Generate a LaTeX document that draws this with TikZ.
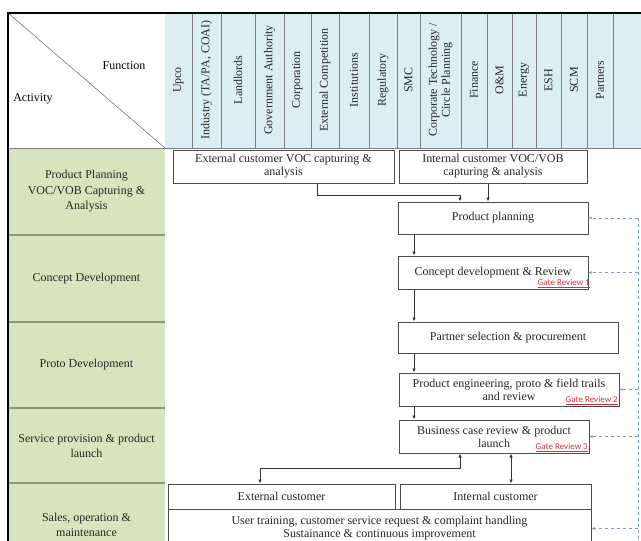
\documentclass[tikz,border=0pt]{standalone}
\usepackage{fontspec}
\setmainfont{Liberation Serif}
\newfontfamily\gatefont{Carlito}
\usetikzlibrary{arrows.meta,calc}

\definecolor{hdrblue}{HTML}{DBEEF3}
\definecolor{actgreen}{HTML}{D7E4BD}
\definecolor{gridgray}{HTML}{7F7F7F}
\definecolor{rowgray}{HTML}{8A9878}
\definecolor{fbblue}{HTML}{8496C8}
\definecolor{gatered}{HTML}{E0303A}

\begin{document}
\begin{tikzpicture}[x=1pt,y=-1pt,
  font=\fontsize{12}{13.2}\selectfont,
  box/.style={draw=black!70,line width=1pt,fill=white,align=center,inner sep=2pt,text=black!85},
  stage/.style={align=center,text=black!85,font=\fontsize{12}{15.5}\selectfont},
  func/.style={rotate=90,align=center,text=black!85},
  gate/.style={anchor=south east,text=gatered,font=\gatefont\fontsize{9}{9}\selectfont,inner sep=1.5pt},
  flow/.style={draw=black!80,line width=0.8pt,-{Latex[length=4pt,width=3.5pt]}},
  both/.style={draw=black!80,line width=0.8pt,{Latex[length=4pt,width=3.5pt]}-{Latex[length=4pt,width=3.5pt]}},
  fback/.style={draw=fbblue,dashed,line width=0.6pt},
  rowline/.style={draw=rowgray,line width=1.4pt}
]
\useasboundingbox (0,0) rectangle (641,541);

% header and activity column
\fill[hdrblue] (165,13) rectangle (641,148);
\fill[actgreen] (8,148) rectangle (165,545);
\foreach \xx in {192,221,255,284,311,339,369,397,420,461,487,512,536,561,587,613}
  \draw[gridgray,line width=0.8pt] (\xx,13) -- (\xx,148);
\foreach \xc/\lbl [count=\i] in {178.5/Upco, 206.5/{Industry (TA/PA, COAI)}, 238/Landlords,
    269.5/{Government Authority}, 297.5/Corporation, 325/{External Competition},
    354/Institutions, 383/Regulatory, 408.5/SMC, 440.5/{Corporate Technology /\\Circle Planning},
    474/Finance, 499.5/{O\&M}, 524/Energy, 548.5/ESH, 574/SCM, 600/Partners}
  \node[func] (f\i) at (\xc,80) {\lbl};
\draw[gridgray,line width=1pt] (8,148) -- (641,148);
\draw[black!70] (8,13) -- (165,148);
\node (function) at (124,66) {Function};
\node (activity) at (33,99) {Activity};
\foreach \yy in {235,322,408,483}
  \draw[rowline] (8,\yy) -- (165,\yy);
\draw[line width=1.8pt] (8,545) -- (8,13) -- (641,13);

\node[stage] (s1) at (86.5,191.5) {Product Planning\\VOC/VOB Capturing \&\\Analysis};
\node[stage] (s2) at (86.5,278.5) {Concept Development};
\node[stage] (s3) at (86.5,365) {Proto Development};
\node[stage] (s4) at (86.5,446) {Service provision \& product\\launch};
\node[stage] (s5) at (86.5,525) {Sales, operation \&\\maintenance};

% activities
\node[box,minimum width=221pt,minimum height=33pt] (extvoc) at (283.5,166.5) {External customer VOC capturing \&\\analysis};
\node[box,minimum width=188pt,minimum height=33pt] (intvoc) at (493,166.5) {Internal customer VOC/VOB\\capturing \& analysis};
\node[box,minimum width=190pt,minimum height=32pt] (plan) at (493,218) {Product planning};
\node[box,minimum width=190pt,minimum height=33pt] (concept) at (493,272.5) {Concept development \& Review};
\node[box,minimum width=220pt,minimum height=31pt] (partner) at (508,337.5) {Partner selection \& procurement};
\node[box,minimum width=220pt,minimum height=33pt] (proto) at (509,389.5) {Product engineering, proto \& field trails\\and review};
\node[box,minimum width=190pt,minimum height=33pt] (launch) at (494,436.5) {Business case review \& product\\launch};
\node[box,minimum width=227pt,minimum height=25pt] (extcust) at (281.5,496.5) {External customer};
\node[box,minimum width=191pt,minimum height=25pt] (intcust) at (495.5,496.5) {Internal customer};
\node[box,minimum width=423pt,minimum height=39pt] (support) at (379.5,528.5) {User training, customer service request \& complaint handling\\Sustainance \& continuous improvement};

\node[gate] (g1) at ([xshift=3pt]concept.south east) {\underline{Gate Review 1}};
\node[gate] (g2) at (proto.south east) {\underline{Gate Review 2}};
\node[gate] (g3) at (launch.south east) {\underline{Gate Review 3}};

% flow
\coordinate (spine) at (414,0);
\coordinate (junc) at (460,468);
\coordinate (ecx) at (260,0);
\coordinate (icx) at (511,0);
\coordinate (fb) at (638,0);
\draw[flow] ([xshift=33.5pt]extvoc.south) -- ++(0,12) -| ([xshift=-33pt]plan.north);
\draw[flow] ([xshift=-5pt]intvoc.south) -- ([xshift=-5pt]plan.north);
\draw[flow] (plan.south -| spine) -- (concept.north -| spine);
\draw[flow] (concept.south -| spine) -- (partner.north -| spine);
\draw[flow] (partner.south -| spine) -- (proto.north -| spine);
\draw[flow] (proto.south -| spine) -- (launch.north -| spine);
\draw[both] (launch.south -| junc) -- (junc) -| (extcust.north -| ecx);
\draw[both] (launch.south -| icx) -- (intcust.north -| icx);

% feedback
\draw[fback] (plan.east -| fb) -- (fb |- 0,545);
\foreach \n in {plan,concept,proto,launch,support}
  \draw[fback,-{Latex[length=3pt,width=3pt]}] (\n.east -| fb) -- (\n.east);
\end{tikzpicture}
\end{document}
